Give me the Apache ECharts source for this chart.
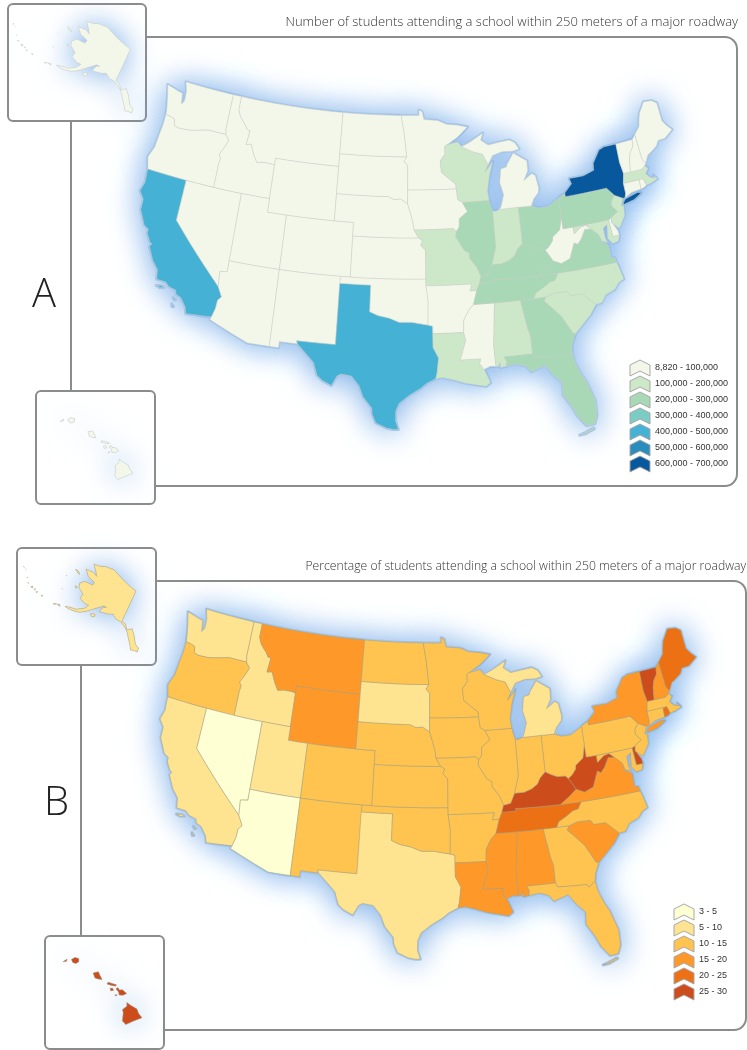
<!DOCTYPE html>
<html><head><meta charset="utf-8">
<style>html,body{margin:0;padding:0;background:#fff}#c{width:747px;height:1050px}</style>
<script src="https://cdn.jsdelivr.net/npm/echarts@6/dist/echarts.min.js"></script>
</head><body><div id="c"></div>
<script>
// ---------- chart values ----------
const stateNames = ['WA','OR','CA','NV','ID','MT','WY','UT','CO','AZ','NM','TX','OK','KS','NE','SD','ND','MN','IA','MO','AR','LA','MS','AL','GA','FL','SC','NC','TN','KY','VA','WV','MD','DE','PA','NJ','NY','CT','RI','MA','VT','NH','ME','OH','IN','IL','WI','MI'];
const studentCounts = [80000,70000,450000,60000,30000,20000,10000,40000,70000,80000,30000,470000,60000,50000,30000,15000,9000,70000,45000,150000,60000,140000,70000,120000,260000,270000,130000,180000,210000,220000,230000,40000,150000,20000,280000,170000,650000,70000,20000,160000,15000,25000,30000,270000,180000,280000,130000,90000];
const studentPercents = [8,12,9,4,8,17,17,8,12,4.5,12,9,13,13,13,9,12,12,12,12,13,18,18,18,13,13,18,13,22,27,18,27,13,27,13,13,18,13,22,13,27,18,22,13,13,13,13,9];
const alaskaCount = 30000, hawaiiCount = 35000;
const alaskaPercent = 8, hawaiiPercent = 27;
const countLabels = ['8,820 - 100,000','100,000 - 200,000','200,000 - 300,000','300,000 - 400,000','400,000 - 500,000','500,000 - 600,000','600,000 - 700,000'];
const countBreaks = [8820,100000,200000,300000,400000,500000,600000,700000];
const countColors = ['#f3f7e9','#cde8c8','#a8d8b6','#7bccc4','#45b1d4','#2b8cbe','#08589e'];
const percentLabels = ['3 - 5','5 - 10','10 - 15','15 - 20','20 - 25','25 - 30'];
const percentBreaks = [3,5,10,15,20,25,30];
const percentColors = ['#ffffd4','#fee391','#fec44f','#fe9929','#ec7014','#cc4c1c'];
const titleA = 'Number of students attending a school within 250 meters of a major roadway';
const titleB = 'Percentage of students attending a school within 250 meters of a major roadway';

// ---------- state outlines, longitude latitude ----------
const outlines = {
WA:['-124.7 48.4,-123.2 48.15,-122.8 48.1,-122.6 47.3,-122.35 47.6,-122.4 48.3,-122.75 49,-117.03 49,-117.04 46.42,-116.92 45.99,-118.98 46,-119.3 45.93,-120.5 45.7,-121.2 45.6,-122.3 45.55,-122.75 45.65,-122.9 46.1,-123.4 46.2,-123.95 46.25,-124.05 46.7,-124.15 47,-124.4 47.7'],
OR:['-123.95 46.25,-123.4 46.2,-122.9 46.1,-122.75 45.65,-122.3 45.55,-121.2 45.6,-120.5 45.7,-119.3 45.93,-118.98 46,-116.92 45.99,-116.46 45.6,-116.85 44.95,-117.2 44.45,-116.95 44.2,-117.03 43.8,-117.03 42,-124.2 42,-124.55 42.85,-124.15 43.7,-124.05 44.7,-123.95 45.5'],
CA:['-124.2 42,-120 42,-120 39,-114.63 35,-114.14 34.3,-114.45 34,-114.5 33.4,-114.72 32.72,-117.12 32.53,-117.3 33,-117.9 33.6,-118.4 33.75,-118.5 34.03,-119.2 34.15,-119.6 34.42,-120.5 34.45,-120.65 35.15,-121.3 35.7,-121.95 36.6,-121.8 36.85,-122.05 36.95,-122.5 37.5,-122.5 37.8,-123 38,-123.75 39,-123.8 39.8,-124.35 40.3,-124.1 41,-124.2 41.75','-120.4 34,-119.9 34.08,-119.6 34,-120 33.92','-118.6 33.47,-118.3 33.35,-118.45 33.3','-118.6 33,-118.35 32.82,-118.5 32.8'],
NV:['-120 42,-114.04 42,-114.04 36.2,-114.75 36.1,-114.63 35,-120 39'],
ID:['-117.03 49,-116.05 49,-116.05 48,-115.7 47.5,-115 47,-114.7 46.7,-114.35 46.65,-114.5 45.6,-113.95 45.7,-113.45 44.95,-113 44.45,-112.3 44.55,-111.5 44.55,-111.05 44.48,-111.05 42,-117.03 42,-117.03 43.8,-116.95 44.2,-117.2 44.45,-116.85 44.95,-116.46 45.6,-116.92 45.99,-117.04 46.42'],
MT:['-116.05 49,-104.05 49,-104.05 45,-111.05 45,-111.05 44.48,-111.5 44.55,-112.3 44.55,-113 44.45,-113.45 44.95,-113.95 45.7,-114.5 45.6,-114.35 46.65,-114.7 46.7,-115 47,-115.7 47.5,-116.05 48'],
WY:['-111.05 45,-104.05 45,-104.05 41,-111.05 41'],
UT:['-114.04 42,-111.05 42,-111.05 41,-109.05 41,-109.05 37,-114.04 37'],
CO:['-109.05 41,-102.05 41,-102.05 37,-109.05 37'],
AZ:['-114.04 37,-109.05 37,-109.05 31.33,-111.07 31.33,-114.82 32.5,-114.72 32.72,-114.5 33.4,-114.45 34,-114.14 34.3,-114.63 35,-114.75 36.1,-114.04 36.2'],
NM:['-109.05 37,-103 37,-103.04 32,-106.62 32,-106.53 31.78,-108.2 31.78,-108.2 31.33,-109.05 31.33'],
TX:['-103.04 36.5,-100 36.5,-100 34.56,-99.2 34.3,-98.1 34.13,-97.2 33.85,-96 33.85,-94.48 33.64,-94.04 33.55,-94.04 33,-94.04 31.99,-93.55 31.2,-93.72 30.1,-93.85 29.7,-94.7 29.35,-95.2 29,-96.2 28.5,-97.1 27.9,-97.4 27.3,-97.4 26.6,-97.15 25.96,-97.6 25.95,-98.2 26.05,-99.1 26.4,-99.45 27.05,-99.5 27.5,-100.3 28.3,-100.7 29.1,-101.4 29.77,-102.35 29.87,-102.7 29.7,-103.15 28.98,-104 29.3,-104.5 29.65,-104.9 30.55,-106 31.4,-106.53 31.78,-106.62 32,-103.04 32'],
OK:['-103 37,-94.62 37,-94.62 36.5,-94.43 35.4,-94.48 33.64,-96 33.85,-97.2 33.85,-98.1 34.13,-99.2 34.3,-100 34.56,-100 36.5,-103.04 36.5'],
KS:['-102.05 40,-95.3 40,-94.9 39.8,-95.1 39.45,-94.61 39.1,-94.62 37,-102.05 37'],
NE:['-104.05 43,-98.5 43,-97.9 42.8,-97.2 42.85,-96.45 42.5,-96.1 41.7,-95.9 41.2,-95.77 40.58,-95.3 40,-102.05 40,-102.05 41,-104.05 41'],
SD:['-104.05 45.94,-96.56 45.94,-96.85 45.6,-96.45 45.3,-96.45 43.5,-96.45 42.5,-97.2 42.85,-97.9 42.8,-98.5 43,-104.05 43'],
ND:['-104.05 49,-97.23 49,-96.85 47.6,-96.56 45.94,-104.05 45.94'],
MN:['-97.23 49,-95.15 49,-95.15 49.4,-94.8 49.3,-94.6 48.7,-93 48.6,-92 48.3,-90.8 48.2,-89.6 48,-90.8 47.3,-92.1 46.75,-92.29 46.66,-92.29 46.1,-92.85 45.6,-92.75 44.75,-91.25 43.85,-91.22 43.5,-96.45 43.5,-96.45 45.3,-96.85 45.6,-96.56 45.94,-96.85 47.6'],
IA:['-96.45 43.5,-91.22 43.5,-91.1 42.7,-90.65 42.5,-90.15 41.8,-91.05 41.3,-91.1 40.7,-91.42 40.38,-91.73 40.61,-95.77 40.58,-95.9 41.2,-96.1 41.7,-96.45 42.5'],
MO:['-95.77 40.58,-91.73 40.61,-91.42 40.38,-91.5 40,-90.7 39,-90.2 38.75,-90.2 38.4,-89.55 37.7,-89.2 37,-89.4 36.5,-89.7 36,-90.37 36,-90.15 36.5,-94.62 36.5,-94.62 37,-94.61 39.1,-95.1 39.45,-94.9 39.8,-95.3 40'],
AR:['-94.62 36.5,-90.15 36.5,-90.37 36,-89.7 36,-90.1 35,-90.6 34.6,-91.1 33.9,-91.17 33,-94.04 33,-94.04 33.55,-94.48 33.64,-94.43 35.4'],
LA:['-94.04 33,-91.17 33,-91 32.4,-91.6 31,-89.73 31,-89.85 30.65,-89.5 30.2,-89.4 30.05,-89 29.2,-89.4 28.95,-90.2 29.1,-91.3 29.3,-92.2 29.55,-93.2 29.77,-93.85 29.7,-93.72 30.1,-93.55 31.2,-94.04 31.99'],
MS:['-91.17 33,-91.1 33.9,-90.6 34.6,-90.1 35,-88.2 35,-88.1 34.9,-88.47 31.9,-88.4 30.35,-88.9 30.4,-89.5 30.2,-89.85 30.65,-89.73 31,-91.6 31,-91 32.4'],
AL:['-88.2 35,-85.6 35,-85.18 32.87,-85 32.3,-85 31,-87.6 31,-87.4 30.65,-87.5 30.3,-88 30.25,-88 30.65,-88.15 30.35,-88.4 30.35,-88.47 31.9,-88.1 34.9'],
GA:['-85.6 35,-83.11 35,-83.35 34.7,-82.75 34.2,-81.9 33.4,-81.4 32.6,-81.1 32.1,-80.85 32.03,-81.3 31.3,-81.45 30.72,-82.05 30.36,-82.2 30.57,-84.86 30.7,-85 31,-85 32.3,-85.18 32.87'],
FL:['-87.6 31,-85 31,-84.86 30.7,-82.2 30.57,-82.05 30.36,-81.45 30.72,-81.3 29.9,-80.9 29,-80.55 28.4,-80.05 26.9,-80.1 25.8,-80.4 25.2,-81.1 25.15,-81.75 25.95,-82.1 26.7,-82.75 27.7,-82.65 28.6,-83.4 29.3,-84 30.05,-84.35 29.95,-85.3 29.7,-85.7 30.15,-86.5 30.4,-87.5 30.3,-87.4 30.65','-81.8 24.55,-81.3 24.68,-80.6 24.92,-80.5 24.85,-81.3 24.58'],
SC:['-83.35 34.7,-83.11 35,-82.3 35.2,-81.05 35.15,-80.8 34.82,-79.67 34.8,-78.55 33.86,-79.2 33.2,-79.9 32.7,-80.85 32.03,-81.1 32.1,-81.4 32.6,-81.9 33.4,-82.75 34.2'],
NC:['-84.32 35,-83.11 35,-82.3 35.2,-81.05 35.15,-80.8 34.82,-79.67 34.8,-78.55 33.86,-77.95 33.9,-77.5 34.4,-76.55 34.65,-76 35.1,-75.5 35.25,-75.75 36.2,-75.87 36.55,-81.68 36.59,-82.05 36.12,-82.6 36.03,-83.25 35.72,-84.05 35.4'],
TN:['-90.1 35,-89.7 36,-89.4 36.5,-88.07 36.5,-88.07 36.68,-83.68 36.6,-81.68 36.59,-82.05 36.12,-82.6 36.03,-83.25 35.72,-84.05 35.4,-84.32 35,-85.6 35,-88.2 35'],
KY:['-89.4 36.5,-89.2 37,-88.5 37.1,-88.05 37.8,-87.1 37.8,-86.3 38,-85.7 38.3,-85.4 38.7,-84.82 39.1,-84.25 38.85,-83.7 38.65,-82.85 38.6,-82.6 38.4,-82.3 38,-81.97 37.54,-82.72 37.1,-83.68 36.6,-88.07 36.68,-88.07 36.5'],
VA:['-83.68 36.6,-81.68 36.59,-75.87 36.55,-75.95 36.9,-76.3 36.95,-76.3 37.9,-77 38.3,-77.05 38.8,-77.72 39.32,-78.35 39.4,-78.87 38.77,-79.3 38.42,-79.65 38.58,-80.3 37.5,-81.2 37.25,-81.97 37.54,-82.72 37.1'],
WV:['-81.97 37.54,-82.3 38,-82.6 38.4,-82.2 38.6,-81.75 39,-81.7 39.25,-80.87 39.7,-80.52 40.64,-80.52 39.72,-79.48 39.72,-79.48 39.2,-78.75 39.6,-78.2 39.68,-77.72 39.32,-78.35 39.4,-78.87 38.77,-79.3 38.42,-79.65 38.58,-80.3 37.5,-81.2 37.25'],
MD:['-79.48 39.72,-75.79 39.72,-75.7 38.46,-75.05 38.45,-75.25 38.03,-75.85 37.95,-76.25 38.4,-76.15 38.95,-76.05 39.4,-76.5 39.2,-76.5 38.5,-76.35 38.1,-76.9 38.3,-77.05 38.8,-77.72 39.32,-78.2 39.68,-78.75 39.6,-79.48 39.2'],
DE:['-75.79 39.72,-75.45 39.83,-75.55 39.5,-75.1 38.8,-75.05 38.45,-75.7 38.46'],
PA:['-80.52 41.98,-79.76 42.27,-79.76 42,-75.35 42,-74.7 41.36,-75.13 40.97,-75.2 40.65,-74.72 40.15,-75.45 39.83,-75.79 39.72,-79.48 39.72,-80.52 39.72,-80.52 40.64'],
NJ:['-74.7 41.36,-73.9 41,-74.25 40.5,-74 40.45,-74.1 39.75,-74.9 38.95,-75.55 39.45,-75.45 39.83,-74.72 40.15,-75.2 40.65,-75.13 40.97'],
NY:['-79.76 42,-79.76 42.27,-78.9 42.85,-79.05 43.27,-77.5 43.25,-76.3 43.5,-76.2 44,-75.3 44.85,-74.7 45,-73.35 45,-73.4 43.6,-73.25 42.75,-73.5 42.05,-73.5 41.3,-73.65 41,-73.9 41,-74.7 41.36,-75.35 42','-74 40.6,-73.7 40.9,-72.3 41.15,-71.9 41.05,-72.8 40.7,-73.9 40.55'],
CT:['-73.5 42.05,-71.8 42.02,-71.85 41.32,-72.9 41.25,-73.65 41,-73.5 41.3'],
RI:['-71.8 42.02,-71.38 42.02,-71.2 41.5,-71.5 41.37,-71.85 41.32'],
MA:['-73.5 42.05,-73.25 42.75,-71.3 42.7,-70.9 42.88,-70.6 42.65,-71 42.3,-70.6 41.95,-70 41.8,-70.25 42.07,-69.95 41.7,-70.65 41.55,-71.2 41.5,-71.38 42.02,-71.8 42.02'],
VT:['-73.35 45,-71.5 45,-71.6 44.5,-72.05 44.1,-72.3 43.6,-72.5 42.73,-73.25 42.75,-73.4 43.6'],
NH:['-71.5 45,-71.08 45.3,-70.98 43.4,-70.7 43.07,-70.9 42.88,-71.3 42.7,-72.5 42.73,-72.3 43.6,-72.05 44.1,-71.6 44.5'],
ME:['-71.08 45.3,-70.4 45.8,-70.25 46.2,-70 46.7,-69.2 47.45,-68.3 47.35,-67.8 47.07,-67.8 45.7,-67.45 45.25,-67 44.85,-68 44.4,-68.8 44.4,-69.1 44.05,-69.8 43.75,-70.25 43.6,-70.7 43.07,-70.98 43.4'],
OH:['-84.82 41.76,-83.45 41.73,-82.7 41.5,-81.7 41.5,-80.52 41.98,-80.52 40.64,-80.87 39.7,-81.7 39.25,-81.75 39,-82.2 38.6,-82.6 38.4,-82.85 38.6,-83.7 38.65,-84.25 38.85,-84.82 39.1'],
IN:['-87.53 41.7,-87.2 41.65,-86.8 41.76,-84.82 41.76,-84.82 39.1,-85.4 38.7,-85.7 38.3,-86.3 38,-87.1 37.8,-88.05 37.8,-87.55 39,-87.53 39.35'],
IL:['-90.65 42.5,-87.8 42.5,-87.6 41.85,-87.53 41.7,-87.53 39.35,-87.55 39,-88.05 37.8,-88.5 37.1,-89.2 37,-89.55 37.7,-90.2 38.4,-90.2 38.75,-90.7 39,-91.5 40,-91.42 40.38,-91.1 40.7,-91.05 41.3,-90.15 41.8'],
WI:['-92.1 46.75,-90.8 46.95,-90.4 46.57,-89.1 46.13,-88.1 45.9,-87.6 45.1,-88 44.55,-87.05 45.3,-87.55 44.3,-87.9 43.2,-87.8 42.5,-90.65 42.5,-91.1 42.7,-91.22 43.5,-91.25 43.85,-92.75 44.75,-92.85 45.6,-92.29 46.1,-92.29 46.66'],
MI:['-86.8 41.76,-84.82 41.76,-83.45 41.73,-83.1 42.2,-82.5 42.65,-82.42 43,-82.6 43.9,-82.95 44.07,-83.9 43.65,-83.35 44.3,-83.3 45.05,-84.7 45.75,-85.5 45,-85.6 44.8,-86.25 44.7,-86.5 43.7,-86.2 42.8,-86.6 41.95','-90.4 46.57,-89.1 46.13,-88.1 45.9,-87.6 45.1,-87 45.75,-85.9 45.95,-84.75 45.9,-84 46,-84.4 46.5,-85 46.75,-86.2 46.67,-87.4 46.55,-88.2 46.95,-87.9 47.47,-88.6 47.2,-89.5 46.85']
};
const alaskaOutline = ['-141 69.65,-141 60.3,-139 60.1,-137.5 58.9,-135.5 59.8,-133.5 58.4,-131.8 56.6,-130 56,-130 55,-131.5 55,-132.8 54.8,-134 56,-135.5 57.2,-136.5 58.1,-138 59,-139.7 59.6,-141.5 60,-144 60,-146 60.7,-148 60,-149.5 59.7,-151.8 59.2,-151.4 60.7,-150 61.2,-151.5 61.1,-153.5 59.6,-154.5 58.9,-156.5 57.3,-158.5 56,-161 55.2,-163.3 54.7,-164.8 54.6,-163 55.3,-160.5 56,-158 57.5,-157.2 58.8,-158.8 58.5,-162 58.7,-162 60,-165.3 60.6,-166.2 61.6,-164.8 62.9,-161 63.6,-161 64.5,-165 64.5,-168.1 65.6,-164 66.5,-162 66.2,-163.6 67.1,-166.8 68.35,-163.3 69.3,-161.5 70.3,-156.7 71.35,-152 70.8,-147 70.2',
'-154.6 57.3,-153.4 57,-152.4 57.6,-153 58,-154 57.7','-171.7 63.4,-170 63.6,-168.8 63.2,-170 63.1','-167 60.2,-165.8 60.3,-166 59.85','-168.1 53.5,-166.3 53.7,-166.4 53.9,-167 54,-167.8 53.5','-169 52.9,-168.2 53.2,-168.5 53.4','-174.6 52.05,-174 52.1,-174.1 52.4','-176.9 51.6,-176.4 51.7,-176.6 52','-178.1 51.7,-177.6 51.7,-177.9 52','-179.6 51.4,-178.8 51.55,-179.2 51.9','-181.5 51.35,-181 51.5,-181.2 51.7','-183.2 51.9,-182.8 51.9,-183 52.15','-186 52.9,-185.7 52.9,-185.9 53.05','-187.2 52.8,-186.7 52.85,-187 53','-170.5 57.15,-170.1 57.2,-170.3 57.3','-172.9 60.3,-172.5 60.35,-172.8 60.5'];
const hawaiiOutline = ['-155.88 20.25,-155.6 20.12,-155.2 19.98,-155.05 19.73,-154.8 19.52,-155.3 19.2,-155.68 18.93,-155.92 19.1,-155.97 19.6,-156.05 19.78,-155.83 20.03','-156.7 20.92,-156.6 21.03,-156.48 20.9,-156.3 20.95,-156 20.78,-156.2 20.63,-156.43 20.6,-156.5 20.78','-157.3 21.1,-157.25 21.22,-156.72 21.17,-156.75 21.08,-157.05 21.08','-157.06 20.88,-156.92 20.93,-156.82 20.82,-156.98 20.74','-156.7 20.55,-156.55 20.6,-156.6 20.5','-158.28 21.57,-157.98 21.71,-157.82 21.5,-157.65 21.3,-157.9 21.28,-158.1 21.3','-159.78 22.06,-159.6 22.22,-159.35 22.22,-159.3 22.03,-159.45 21.88,-159.65 21.9','-160.25 21.8,-160.05 22.02,-160.05 21.88'];

// ---------- geometry helpers ----------
function parseRing(text){
  const pts = text.split(',').map(p => p.split(' ').map(Number));
  const out = [];
  pts.forEach((p,i) => {
    const q = pts[(i+1)%pts.length];
    const n = Math.max(1, Math.ceil(Math.max(Math.abs(q[0]-p[0]),Math.abs(q[1]-p[1]))));
    for (let k=0;k<n;k++) out.push([p[0]+(q[0]-p[0])*k/n, p[1]+(q[1]-p[1])*k/n]);
  });
  out.push(out[0]);
  return out;
}
function feature(name, rings){
  return {type:'Feature',properties:{name},geometry:{type:'MultiPolygon',coordinates:rings.map(r=>[parseRing(r)])}};
}
function albers(lat1,lat2,lat0,lon0,sx,sy){
  const r = Math.PI/180, n=(Math.sin(lat1*r)+Math.sin(lat2*r))/2;
  const C=Math.cos(lat1*r)**2+2*n*Math.sin(lat1*r);
  const rho=l=>Math.sqrt(C-2*n*Math.sin(l*r))/n, rho0=rho(lat0);
  return {
    project(p){ const t=n*(p[0]-lon0)*r, q=rho(p[1]); return [q*Math.sin(t)*sx, -(rho0-q*Math.cos(t))*sy]; },
    unproject(p){ const x=p[0]/sx, y=rho0+p[1]/sy, t=Math.atan2(x,y), q=Math.hypot(x,y);
      return [t/n/r+lon0, Math.asin((C-q*q*n*n)/(2*n))/r]; }
  };
}
// one registered copy per series: ECharts merges map series that share a map name
['A','B'].forEach(k=>{
  echarts.registerMap('usa'+k,{type:'FeatureCollection',features:stateNames.map(s=>feature(s,outlines[s]))});
  echarts.registerMap('alaska'+k,{type:'FeatureCollection',features:[feature('AK',alaskaOutline)]});
  echarts.registerMap('hawaii'+k,{type:'FeatureCollection',features:[feature('HI',hawaiiOutline)]});
});
const usProj=albers(29.5,45.5,37.5,-96,1,1.055), akProj=albers(29.5,45.5,37.5,-96,1,1.1), hiProj=albers(29.5,45.5,20,-137,1,1);

// ---------- panels ----------
const panels=[
 {key:'A',us:[406,258.5,532],ak:[73,67,120],hi:[96.5,448.5,73],border:'#cfcfc7'},
 {key:'B',us:[428,787,536],ak:[81,608,115],hi:[102.5,991,79],border:'#a89e78'}
];
const glow={areaColor:'#a6c6ea',borderColor:'#a6c6ea',borderWidth:3,borderJoin:'round',shadowBlur:30,shadowColor:'#7aade8'};
const geos=[],series=[];
const dataA=stateNames.map((n,i)=>({name:n,value:studentCounts[i]}));
const dataB=stateNames.map((n,i)=>({name:n,value:studentPercents[i]}));
panels.forEach((p,i)=>{
  const sets=[['usa'+p.key,usProj,p.us,i?dataB:dataA],
              ['alaska'+p.key,akProj,p.ak,[{name:'AK',value:i?alaskaPercent:alaskaCount}]],
              ['hawaii'+p.key,hiProj,p.hi,[{name:'HI',value:i?hawaiiPercent:hawaiiCount}]]];
  sets.forEach((s,j)=>{
    geos.push({map:s[0],projection:s[1],layoutCenter:[s[2][0],s[2][1]],layoutSize:s[2][2],silent:true,z:3,
      itemStyle:j?{...glow,borderWidth:0}:glow,label:{show:false},emphasis:{disabled:true},tooltip:{show:false}});
    series.push({type:'map',map:s[0],projection:s[1],layoutCenter:[s[2][0],s[2][1]],layoutSize:s[2][2],silent:true,z:4,
      data:s[3],label:{show:false},emphasis:{disabled:true},select:{disabled:true},
      itemStyle:{borderColor:p.border,borderWidth:0.5,borderJoin:'round'}});
  });
});

// ---------- legends ----------
const chevron='path://M10 0L20 5L20 16L10 11L0 16L0 5Z';
function pieces(labels,breaks,colors){return labels.map((l,i)=>({min:breaks[i],max:breaks[i+1],label:l,color:colors[i]}));}
function vm(labels,breaks,colors,idx,left,top){
  return {type:'piecewise',seriesIndex:idx,pieces:pieces(labels,breaks,colors),left,top,padding:0,orient:'vertical',inverse:true,
    itemWidth:20,itemHeight:16,itemGap:0,textGap:5,itemSymbol:chevron,selectedMode:false,hoverLink:false,align:'left',z:20,
    textStyle:{fontFamily:'Liberation Sans',fontSize:9,color:'#333'}};
}
function chevronOutlines(count,left,top){
  return Array.from({length:count},(_,i)=>({type:'polygon',silent:true,z:30,
    shape:{points:[[10,0],[20,5],[20,16],[10,11],[0,16],[0,5]].map(q=>[left+q[0],top+i*16+q[1]])},
    style:{fill:'none',stroke:'#a8a8a8',lineWidth:1}}));
}
const line='#8c8c8c';
function frame(x,y,w,h,r){return {type:'rect',silent:true,z:1,shape:{x,y,width:w,height:h,r},style:{fill:'#fff',stroke:line,lineWidth:2}};}

const chart=echarts.init(document.getElementById('c'),null,{renderer:'canvas'});
chart.setOption({
  animation:false,backgroundColor:'#fff',
  title:[
   {text:titleA,right:9,top:16,padding:0,textStyle:{fontFamily:'Open Sans',fontWeight:300,fontSize:13,color:'#333'}},
   {text:titleB,right:1,top:561,padding:0,textStyle:{fontFamily:'Open Sans',fontWeight:300,fontSize:12.2,color:'#333'}},
   {text:'A',left:32,top:276,padding:0,textStyle:{fontFamily:'Open Sans',fontWeight:300,fontSize:40,color:'#222'}},
   {text:'B',left:44,top:784,padding:0,textStyle:{fontFamily:'Open Sans',fontWeight:300,fontSize:40,color:'#222'}}
  ],
  geo:geos,series,
  visualMap:[vm(countLabels,countBreaks,countColors,[0,1,2],630,360),vm(percentLabels,percentBreaks,percentColors,[3,4,5],674,904)],
  graphic:{elements:[
    frame(71,37,666,449,12),frame(81,581,665,449,12),
    frame(8,4,138,117,5),frame(36,391,119,113,5),
    frame(17,548,139,117,5),frame(45,936,119,113,5),
    ...chevronOutlines(countLabels.length,630,360),...chevronOutlines(percentLabels.length,674,904)
  ]}
});
</script></body></html>
